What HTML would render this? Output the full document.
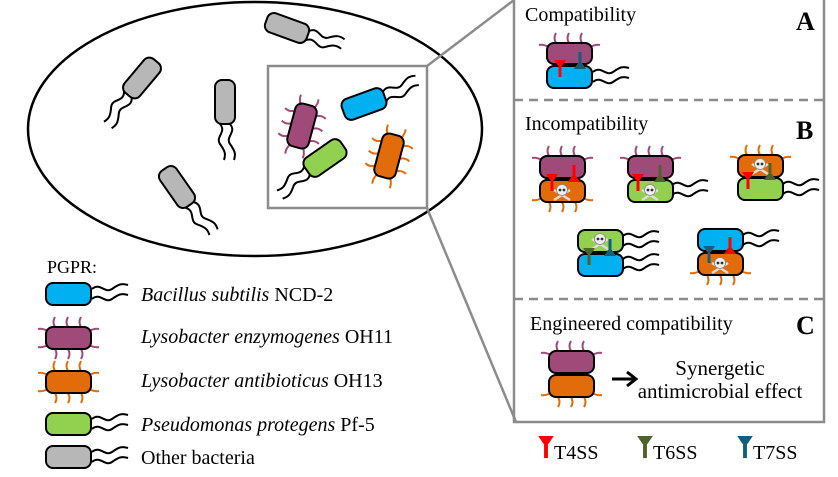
<!DOCTYPE html>
<html><head><meta charset="utf-8"><style>
html,body{margin:0;padding:0;background:#fff;}
svg{display:block;font-family:"Liberation Serif",serif;}
</style></head><body>
<svg width="838" height="477" viewBox="0 0 838 477" xmlns="http://www.w3.org/2000/svg">
<defs>
  <path id="fl" d="M0,0 c8,-7 13,5 20,0 s10,-6 16,-4" fill="none" stroke="#000" stroke-width="2"/>
  <g id="flag2"><use href="#fl" transform="translate(0,-5)"/><use href="#fl" transform="translate(0,5)"/></g>
  <g id="ss"><path d="M-6,0 L6,0 L2,6 L-2,6 Z"/><rect x="-1.5" y="0" width="3" height="17"/></g>
  <g id="skull">
    <line x1="-8" y1="-2" x2="8" y2="8" stroke="#ddd" stroke-width="2.5"/>
    <line x1="8" y1="-2" x2="-8" y2="8" stroke="#ddd" stroke-width="2.5"/>
    <circle cx="0" cy="-2" r="5.5" fill="#eee" stroke="#888" stroke-width="0.8"/>
    <circle cx="-2" cy="-2" r="1.4" fill="#333"/><circle cx="2" cy="-2" r="1.4" fill="#333"/>
  </g>
  <g id="hairsT" fill="none" stroke-width="2">
    <path d="M9,0 q-3,-5 0,-10"/><path d="M22,0 q-3,-5 0,-10"/><path d="M35,0 q-3,-5 0,-10"/>
    <path d="M2,4 q-6,-3 -10,-2"/><path d="M43,4 q6,-3 10,-2"/>
  </g>
  <g id="hairsB" fill="none" stroke-width="2">
    <path d="M9,22 q3,5 0,10"/><path d="M22,22 q3,5 0,10"/><path d="M35,22 q3,5 0,10"/>
    <path d="M2,18 q-6,3 -10,2"/><path d="M43,18 q6,3 10,2"/>
  </g>
  <g id="hairsAll"><use href="#hairsT"/><use href="#hairsB"/></g>
</defs>

<ellipse cx="255" cy="129" rx="227" ry="127" fill="none" stroke="#000" stroke-width="2.5"/>

<g transform="translate(287,28) rotate(20)">
  <use href="#flag2" transform="translate(22,0)"/>
  <rect x="-22" y="-10" width="44" height="20" rx="7" fill="#b7b7b7" stroke="#000" stroke-width="2"/>
</g>
<g transform="translate(142,78) rotate(130)">
  <use href="#flag2" transform="translate(22,0)"/>
  <rect x="-22" y="-10" width="44" height="20" rx="7" fill="#b7b7b7" stroke="#000" stroke-width="2"/>
</g>
<g transform="translate(225,102) rotate(90)">
  <use href="#flag2" transform="translate(22,0)"/>
  <rect x="-22" y="-10" width="44" height="20" rx="7" fill="#b7b7b7" stroke="#000" stroke-width="2"/>
</g>
<g transform="translate(177,187) rotate(55)">
  <use href="#flag2" transform="translate(22,0)"/>
  <rect x="-22" y="-10" width="44" height="20" rx="7" fill="#b7b7b7" stroke="#000" stroke-width="2"/>
</g>

<rect x="268" y="66" width="159" height="142" fill="#fff" stroke="#8c8c8c" stroke-width="2.5"/>
<line x1="427" y1="66" x2="514" y2="0" stroke="#8c8c8c" stroke-width="2.5"/>
<line x1="427" y1="208" x2="516" y2="422" stroke="#8c8c8c" stroke-width="2.5"/>

<g transform="translate(302,126) rotate(105)">
  <g transform="translate(-22,-11)" stroke="#a04a7a"><use href="#hairsAll"/></g>
  <rect x="-22" y="-11" width="44" height="22" rx="7" fill="#a04a7a" stroke="#000" stroke-width="2"/>
</g>
<g transform="translate(364,104) rotate(-20)">
  <use href="#flag2" transform="translate(22,0)"/>
  <rect x="-22" y="-11" width="44" height="22" rx="7" fill="#00b0f0" stroke="#000" stroke-width="2"/>
</g>
<g transform="translate(325,158) rotate(145)">
  <use href="#flag2" transform="translate(22,0)"/>
  <rect x="-22" y="-11" width="44" height="22" rx="7" fill="#92d050" stroke="#000" stroke-width="2"/>
</g>
<g transform="translate(389,156) rotate(105)">
  <g transform="translate(-22,-11)" stroke="#e36c0a"><use href="#hairsAll"/></g>
  <rect x="-22" y="-11" width="44" height="22" rx="7" fill="#e36c0a" stroke="#000" stroke-width="2"/>
</g>

<rect x="514" y="-2" width="310" height="424" fill="none" stroke="#8c8c8c" stroke-width="2.5"/>
<line x1="514" y1="100" x2="824" y2="100" stroke="#8c8c8c" stroke-width="2.5" stroke-dasharray="9,6"/>
<line x1="514" y1="299" x2="824" y2="299" stroke="#8c8c8c" stroke-width="2.5" stroke-dasharray="9,6"/>

<text x="525" y="21" font-size="20">Compatibility</text>
<text x="796" y="30" font-size="26" font-weight="bold">A</text>
<text x="525" y="130" font-size="20">Incompatibility</text>
<text x="796" y="139" font-size="26" font-weight="bold">B</text>
<text x="530" y="330" font-size="20">Engineered compatibility</text>
<text x="796" y="334" font-size="26" font-weight="bold">C</text>

<g stroke="#a04a7a"><use href="#hairsT" transform="translate(547,43)"/></g>
<use href="#flag2" transform="translate(593,77)"/>
<rect x="547" y="43" width="45" height="21" rx="7" fill="#a04a7a" stroke="#000" stroke-width="2"/>
<rect x="547" y="66" width="45" height="22" rx="7" fill="#00b0f0" stroke="#000" stroke-width="2"/>
<use href="#ss" fill="#ff0000" transform="translate(560,60)"/>
<use href="#ss" fill="#125f7c" transform="translate(580,69) scale(1,-1)"/>

<g stroke="#a04a7a"><use href="#hairsT" transform="translate(540,156)"/></g>
<g stroke="#e36c0a"><use href="#hairsB" transform="translate(540,180)"/></g>
<rect x="540" y="156" width="45" height="22" rx="7" fill="#a04a7a" stroke="#000" stroke-width="2"/>
<rect x="540" y="180" width="45" height="22" rx="7" fill="#e36c0a" stroke="#000" stroke-width="2"/>
<use href="#skull" transform="translate(562,192)"/>
<use href="#ss" fill="#ff0000" transform="translate(552,174)"/>
<use href="#ss" fill="#ff0000" transform="translate(574,182) scale(1,-1)"/>

<g stroke="#a04a7a"><use href="#hairsT" transform="translate(628,156)"/></g>
<use href="#flag2" transform="translate(672,190)"/>
<rect x="628" y="156" width="45" height="22" rx="7" fill="#a04a7a" stroke="#000" stroke-width="2"/>
<rect x="628" y="180" width="45" height="22" rx="7" fill="#92d050" stroke="#000" stroke-width="2"/>
<use href="#skull" transform="translate(650,192)"/>
<use href="#ss" fill="#ff0000" transform="translate(638,174)"/>
<use href="#ss" fill="#4f6228" transform="translate(660,182) scale(1,-1)"/>

<g stroke="#e36c0a"><use href="#hairsT" transform="translate(738,155)"/></g>
<use href="#flag2" transform="translate(783,189)"/>
<rect x="738" y="155" width="45" height="22" rx="7" fill="#e36c0a" stroke="#000" stroke-width="2"/>
<rect x="738" y="178" width="45" height="22" rx="7" fill="#92d050" stroke="#000" stroke-width="2"/>
<use href="#skull" transform="translate(760,166)"/>
<use href="#ss" fill="#ff0000" transform="translate(748,172)"/>
<use href="#ss" fill="#4f6228" transform="translate(770,180) scale(1,-1)"/>

<use href="#flag2" transform="translate(623,241)"/>
<use href="#flag2" transform="translate(623,264)"/>
<rect x="578" y="230" width="45" height="22" rx="7" fill="#92d050" stroke="#000" stroke-width="2"/>
<rect x="578" y="254" width="45" height="22" rx="7" fill="#00b0f0" stroke="#000" stroke-width="2"/>
<use href="#skull" transform="translate(600,241)"/>
<use href="#ss" fill="#4f6228" transform="translate(589,248)"/>
<use href="#ss" fill="#125f7c" transform="translate(610,256) scale(1,-1)"/>

<use href="#flag2" transform="translate(743,240)"/>
<g stroke="#e36c0a"><use href="#hairsB" transform="translate(698,253)"/></g>
<rect x="698" y="229" width="45" height="22" rx="7" fill="#00b0f0" stroke="#000" stroke-width="2"/>
<rect x="698" y="253" width="45" height="22" rx="7" fill="#e36c0a" stroke="#000" stroke-width="2"/>
<use href="#skull" transform="translate(720,265)"/>
<use href="#ss" fill="#125f7c" transform="translate(709,246)"/>
<use href="#ss" fill="#ff0000" transform="translate(730,254) scale(1,-1)"/>

<g stroke="#a04a7a"><use href="#hairsT" transform="translate(549,351)"/></g>
<g stroke="#e36c0a"><use href="#hairsB" transform="translate(549,375)"/></g>
<rect x="549" y="351" width="45" height="22" rx="7" fill="#a04a7a" stroke="#000" stroke-width="2"/>
<rect x="549" y="375" width="45" height="22" rx="7" fill="#e36c0a" stroke="#000" stroke-width="2"/>
<line x1="612" y1="379" x2="634" y2="379" stroke="#000" stroke-width="3"/>
<path d="M627,372 L636,379 L627,386" fill="none" stroke="#000" stroke-width="3"/>
<text x="720" y="375" font-size="21" text-anchor="middle">Synergetic</text>
<text x="720" y="398" font-size="21" text-anchor="middle">antimicrobial effect</text>

<use href="#ss" fill="#ff0000" transform="translate(546,436) scale(1.3)"/>
<text x="554" y="459" font-size="20">T4SS</text>
<use href="#ss" fill="#4f6228" transform="translate(645,436) scale(1.3)"/>
<text x="653" y="459" font-size="20">T6SS</text>
<use href="#ss" fill="#125f7c" transform="translate(745,436) scale(1.3)"/>
<text x="753" y="459" font-size="20">T7SS</text>

<text x="47" y="273" font-size="18">PGPR:</text>
<use href="#flag2" transform="translate(92,294)"/>
<rect x="46" y="283" width="45" height="22" rx="7" fill="#00b0f0" stroke="#000" stroke-width="2"/>
<text x="141" y="301" font-size="20"><tspan font-style="italic">Bacillus subtilis</tspan> NCD-2</text>

<g stroke="#a04a7a"><use href="#hairsAll" transform="translate(46,327)"/></g>
<rect x="46" y="327" width="45" height="22" rx="7" fill="#a04a7a" stroke="#000" stroke-width="2"/>
<text x="141" y="343" font-size="20"><tspan font-style="italic">Lysobacter enzymogenes</tspan> OH11</text>

<g stroke="#e36c0a"><use href="#hairsAll" transform="translate(46,371)"/></g>
<rect x="46" y="371" width="45" height="22" rx="7" fill="#e36c0a" stroke="#000" stroke-width="2"/>
<text x="141" y="387" font-size="20"><tspan font-style="italic">Lysobacter antibioticus</tspan> OH13</text>

<use href="#flag2" transform="translate(92,424)"/>
<rect x="46" y="413" width="45" height="22" rx="7" fill="#92d050" stroke="#000" stroke-width="2"/>
<text x="141" y="431" font-size="20"><tspan font-style="italic">Pseudomonas  protegens</tspan> Pf-5</text>

<use href="#flag2" transform="translate(92,457)"/>
<rect x="46" y="446" width="45" height="22" rx="7" fill="#b7b7b7" stroke="#000" stroke-width="2"/>
<text x="141" y="464" font-size="20">Other bacteria</text>
</svg>
</body></html>
